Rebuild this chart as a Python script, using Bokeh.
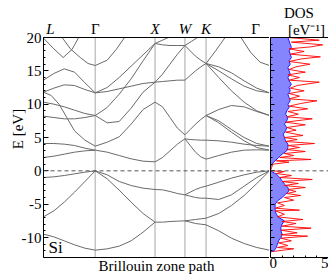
from bokeh.plotting import figure
from bokeh.layouts import row
from bokeh.models import Label, FixedTicker, Span
from bokeh.embed import file_html
from bokeh.resources import INLINE

# ---------------- data ----------------
k_points = [0.0, 0.866, 1.866, 2.366, 2.720, 3.781]   # L, Gamma, X, W, K, Gamma
k_names = ["L", "Γ", "X", "W", "K", "Γ"]
F6 = [0.0, 0.2, 0.4, 0.6, 0.8, 1.0]
F5 = [0.0, 0.25, 0.5, 0.75, 1.0]

# each band: (fractions along the segment, energies in eV)
seg_LG = [
    (F6, [-9.5, -9.9, -10.5, -11.1, -11.6, -11.9]),
    (F6, [-6.9, -6.0, -4.7, -3.2, -1.6, 0.0]),
    (F6, [-1.0, -0.9, -0.7, -0.45, -0.2, 0.0]),
    (F6, [2.0, 2.2, 2.5, 2.8, 3.0, 3.1]),
    (F6, [4.1, 4.1, 4.0, 3.8, 3.4, 3.1]),
    ([0.0, 0.15, 0.3, 0.45, 0.6, 0.8, 1.0], [11.8, 11.3, 10.0, 8.0, 6.0, 4.6, 3.7]),
    (F6, [8.2, 8.0, 7.8, 7.8, 8.0, 8.3]),
    (F6, [10.3, 10.0, 9.6, 9.1, 8.6, 8.3]),
    (F6, [13.6, 14.6, 15.3, 14.8, 13.2, 11.7]),
    (F6, [11.8, 12.4, 12.9, 12.8, 12.2, 11.7]),
    ([0.36, 0.52, 0.71, 0.86, 1.0], [20.0, 18.3, 17.0, 16.1, 15.8]),
    ([0.0, 0.2, 0.38, 0.55, 0.68], [19.9, 18.3, 17.0, 18.2, 20.0]),
]
seg_GX = [
    (F6, [-11.9, -11.7, -11.3, -10.5, -9.2, -7.7]),
    (F6, [0.0, -1.2, -2.9, -4.7, -6.4, -7.7]),
    (F6, [0.0, -0.6, -1.6, -2.2, -2.6, -2.8]),
    (F6, [3.1, 2.8, 2.3, 1.8, 1.45, 1.35]),
    (F6, [3.7, 4.3, 5.1, 7.0, 9.2, 10.3]),
    (F6, [8.3, 7.2, 7.4, 9.4, 11.8, 13.3]),
    (F6, [8.3, 9.5, 11.5, 13.8, 16.5, 19.1]),
    (F6, [11.7, 11.9, 12.3, 12.7, 13.1, 13.3]),
    (F6, [11.7, 12.5, 14.0, 15.7, 17.4, 19.1]),
    ([0.0, 0.2, 0.35, 0.49], [15.8, 16.6, 18.2, 20.0]),
]
seg_XW = [
    (F5, [-7.7, -7.7, -7.6, -7.55, -7.5]),
    (F5, [-2.8, -2.85, -3.1, -3.4, -3.6]),
    (F5, [1.35, 2.0, 3.0, 4.0, 4.8]),
    (F5, [10.3, 9.6, 8.0, 6.4, 5.4]),
    (F5, [13.3, 13.4, 13.5, 13.6, 13.6]),
    (F5, [13.3, 14.5, 16.0, 17.5, 18.8]),
    (F5, [19.1, 18.9, 18.8, 18.8, 18.8]),
    ([0.0, 0.25, 0.45], [19.1, 19.6, 20.0]),
]
seg_WK = [
    (F5, [-3.6, -3.2, -2.8, -2.5, -2.3]),
    (F5, [-3.6, -3.8, -4.0, -4.1, -4.1]),
    (F5, [-7.5, -7.4, -7.3, -7.2, -7.1]),
    (F5, [-7.5, -7.7, -7.9, -8.0, -8.1]),
    (F5, [4.8, 3.8, 2.8, 2.1, 1.75]),
    (F5, [4.8, 4.7, 4.65, 4.6, 4.6]),
    (F5, [5.4, 6.2, 7.0, 7.7, 8.3]),
    (F5, [13.6, 14.3, 15.0, 15.6, 16.1]),
    (F5, [18.8, 18.0, 17.2, 16.6, 16.1]),
    ([0.0, 0.3, 0.6], [18.8, 19.4, 20.0]),
]
seg_KG = [
    (F6, [-2.3, -1.7, -1.1, -0.6, -0.2, 0.0]),
    (F6, [-4.1, -4.3, -3.6, -2.3, -1.0, 0.0]),
    (F6, [-7.1, -6.4, -5.2, -3.7, -1.9, 0.0]),
    (F6, [-8.1, -9.0, -10.1, -10.9, -11.5, -11.9]),
    (F6, [1.75, 2.3, 2.8, 3.1, 3.15, 3.1]),
    (F6, [4.6, 4.5, 4.3, 4.0, 3.8, 3.7]),
    (F6, [8.3, 7.5, 6.2, 5.0, 4.1, 3.7]),
    (F6, [8.3, 7.2, 5.8, 4.5, 3.5, 3.1]),
    (F6, [8.3, 9.2, 9.8, 9.6, 8.9, 8.3]),
    (F6, [16.1, 14.0, 12.0, 10.3, 9.0, 8.3]),
    (F6, [16.1, 15.0, 13.8, 12.7, 12.0, 11.7]),
    (F6, [16.1, 15.6, 14.7, 13.5, 12.4, 11.7]),
    ([0.0, 0.15, 0.3], [16.1, 18.0, 20.0]),
    ([0.55, 0.7, 0.85, 1.0], [20.0, 17.8, 16.3, 15.8]),
]
segments = [seg_LG, seg_GX, seg_XW, seg_WK, seg_KG]

dos_E = [-12.2, -12.0, -11.5, -11.0, -10.5, -10.0, -9.5, -9.0, -8.5, -8.0, -7.5, -7.0, -6.5,
         -6.0, -5.5, -5.0, -4.5, -4.0, -3.5, -3.0, -2.5, -2.0, -1.5, -1.0, -0.5, 0.0,
         0.5, 1.0, 1.5, 2.0, 2.5, 3.0, 3.5, 4.0, 4.5, 5.0, 5.5, 6.0, 6.5, 7.0, 7.5, 8.0,
         8.5, 9.0, 9.5, 10.0, 10.5, 11.0, 11.5, 12.0, 12.5, 13.0, 13.5, 14.0, 14.5, 15.0,
         15.5, 16.0, 16.5, 17.0, 17.5, 18.0, 18.5, 19.0, 19.5, 20.0]
dos_blue = [0.0, 0.3, 0.5, 0.6, 0.7, 0.9, 1.0, 0.9, 0.9, 1.0, 1.2, 0.7, 0.5,
            0.4, 0.4, 0.4, 0.6, 1.0, 1.3, 1.6, 1.5, 1.2, 1.0, 0.8, 0.5, 0.0,
            0.0, 0.1, 0.4, 0.7, 1.0, 1.4, 1.5, 1.5, 1.3, 1.2, 1.1, 1.3, 1.4, 1.2, 1.4, 1.5,
            1.3, 1.4, 1.6, 1.5, 1.7, 1.6, 1.5, 1.7, 1.6, 1.8, 1.6, 1.5, 1.7, 1.6,
            1.5, 1.7, 1.6, 1.8, 1.7, 1.6, 1.8, 1.7, 1.6, 1.5]

red_E = [-12.1, -11.7, -11.5, -11.2, -10.8, -10.5, -10.1, -9.8, -9.6, -9.3, -8.9, -8.6, -8.3,
         -7.9, -7.6, -7.3, -6.9, -6.5, -6.0, -5.9, -5.6, -5.2, -4.8, -4.4, -4.0, -3.7, -3.4,
         -3.1, -2.8, -2.5, -2.2, -1.9, -1.6, -1.3, -1.0, -0.7, -0.4, -0.1, 0.0,
         1.0, 1.3, 1.5, 1.7, 2.0, 2.3, 2.6, 2.9, 3.2, 3.5, 3.8, 4.1, 4.4, 4.7, 5.0, 5.3,
         5.8, 6.1, 6.5, 6.9, 7.3, 7.8, 8.1, 8.5, 8.9, 9.3, 9.7, 10.1, 10.5, 10.8, 11.2,
         11.6, 12.0, 12.4, 12.8, 13.3, 13.6, 14.0, 14.4, 14.8, 15.2, 15.6, 16.0, 16.4,
         16.8, 17.1, 17.5, 17.9, 18.3, 18.6, 18.9, 19.3, 19.6, 20.0]
red_D = [0.2, 2.0, 0.6, 1.5, 0.7, 1.8, 0.9, 3.2, 0.9, 2.3, 0.9, 3.5, 1.0,
         2.2, 1.0, 2.8, 0.6, 1.2, 0.4, 2.5, 0.4, 1.2, 0.6, 2.0, 1.2, 2.6, 1.4,
         2.2, 1.5, 3.0, 1.2, 2.4, 1.0, 3.6, 0.8, 1.8, 0.5, 1.2, 0.0,
         0.2, 1.6, 0.5, 3.5, 0.8, 2.0, 1.2, 3.0, 1.4, 2.5, 1.5, 3.8, 1.3, 2.3, 1.2, 2.8,
         1.3, 2.2, 1.4, 3.0, 1.3, 3.6, 1.4, 2.4, 1.5, 3.2, 1.6, 2.6, 4.0, 1.6, 2.5,
         1.6, 2.9, 1.7, 2.3, 4.2, 1.6, 2.5, 1.5, 3.0, 1.6, 2.2, 3.4, 1.6,
         2.7, 4.3, 1.7, 2.9, 1.6, 3.5, 4.5, 1.8, 4.2, 1.5]

E_ticks = [-10, -5, 0, 5, 10, 15, 20]
E_minor = list(range(-13, 21))
dos_ticks = [0, 5]
dos_minor = [1, 2, 3, 4]

# ---------------- style ----------------
FONT = "Liberation Serif"
E_min, E_max = -13, 20
E_top = E_max + 37 * (E_max - E_min) / 220.0   # room for the labels above the frame
FRAME_H = 257

p = figure(frame_width=226, frame_height=FRAME_H, min_border_left=43, min_border_right=0,
           min_border_top=0, min_border_bottom=22,
           x_range=(k_points[0], k_points[-1]), y_range=(E_min, E_top),
           output_backend="svg", toolbar_location=None)
p.grid.visible = False
p.outline_line_color = None
p.background_fill_color = "white"
p.border_fill_color = "white"

p.segment(x0=k_points[1:-1], y0=[E_min] * 4, x1=k_points[1:-1], y1=[E_max] * 4,
          line_color="#c4c4c4", line_width=1.5)
p.add_layout(Span(location=0, dimension="width", line_color="#555555", line_width=1,
                  line_dash="4 3"))
p.add_layout(Span(location=E_max, dimension="width", line_color="black", line_width=1))

xs, ys = [], []
for i, seg in enumerate(segments):
    k0, k1 = k_points[i], k_points[i + 1]
    for fr, en in seg:
        xs.append([k0 + f * (k1 - k0) for f in fr])
        ys.append(en)
p.multi_line(xs, ys, line_color="#6a6a6a", line_width=1)

p.xaxis.ticker = FixedTicker(ticks=[])
p.xaxis.axis_label = "Brillouin zone path"
p.xaxis.axis_label_standoff = 0
p.xaxis.major_label_standoff = 0
p.xaxis.axis_label_text_font = FONT
p.xaxis.axis_label_text_font_style = "normal"
p.xaxis.axis_label_text_font_size = "15px"
p.xaxis.axis_label_text_color = "black"
p.xaxis.axis_line_color = "black"

p.yaxis.ticker = FixedTicker(ticks=E_ticks, minor_ticks=E_minor)
p.yaxis.bounds = (E_min, E_max)
p.yaxis.major_label_overrides = {-10: "-10", -5: "-5"}
p.yaxis.axis_label = "E [eV]"
p.yaxis.axis_label_standoff = -7
p.yaxis.axis_label_text_font = FONT
p.yaxis.axis_label_text_font_style = "normal"
p.yaxis.axis_label_text_font_size = "15px"
p.yaxis.axis_label_text_color = "black"
p.yaxis.major_label_text_font = FONT
p.yaxis.major_label_text_font_size = "15px"
p.yaxis.major_label_text_color = "black"
p.yaxis.major_label_standoff = 2
p.yaxis.major_tick_in = 5
p.yaxis.major_tick_out = 0
p.yaxis.minor_tick_in = 2
p.yaxis.minor_tick_out = 0
p.yaxis.axis_line_color = "black"

for kp, name in zip(k_points, k_names):
    off = 0
    if kp == k_points[0]:
        off = 7
    elif kp == k_points[-1]:
        off = -14
    p.add_layout(Label(x=kp, y=E_max, text=name, x_offset=off, y_offset=9,
                       text_align="center", text_baseline="alphabetic",
                       text_font=FONT, text_font_size="15px",
                       text_font_style="normal" if name == "Γ" else "italic",
                       text_color="black"))
p.add_layout(Label(x=k_points[0], y=E_min, text="Si", x_offset=5, y_offset=1,
                   text_baseline="bottom", text_font=FONT, text_font_size="17px",
                   text_color="black"))

# DOS panel
q = figure(frame_width=58, frame_height=FRAME_H, min_border_left=1, min_border_right=0,
           min_border_top=0, min_border_bottom=22,
           x_range=(0, 5), y_range=(E_min, E_top),
           output_backend="svg", toolbar_location=None)
q.grid.visible = False
q.outline_line_color = None
q.add_layout(Span(location=0, dimension="width", line_color="#555555", line_width=1,
                  line_dash="4 3"))
q.add_layout(Span(location=E_max, dimension="width", line_color="black", line_width=1))
q.harea(x1=[0] * len(dos_E), x2=dos_blue, y=dos_E, fill_color="#7070ff", fill_alpha=0.85)
q.line(dos_blue, dos_E, line_color="#2020ff", line_width=1)
q.line(red_D, red_E, line_color="red", line_width=1, line_alpha=0.9)

q.xaxis.ticker = FixedTicker(ticks=dos_ticks, minor_ticks=dos_minor)
q.xaxis.major_label_text_font = FONT
q.xaxis.major_label_text_font_size = "15px"
q.xaxis.major_label_text_color = "black"
q.xaxis.major_label_standoff = 0
q.xaxis.major_tick_in = 5
q.xaxis.major_tick_out = 0
q.xaxis.minor_tick_in = 2
q.xaxis.minor_tick_out = 0
q.xaxis.axis_line_color = "black"

q.yaxis.ticker = FixedTicker(ticks=E_ticks, minor_ticks=E_minor)
q.yaxis.bounds = (E_min, E_max)
q.yaxis.major_label_overrides = {t: "" for t in E_ticks}
q.yaxis.major_label_standoff = 0
q.yaxis.major_tick_in = 4
q.yaxis.major_tick_out = 0
q.yaxis.minor_tick_in = 2
q.yaxis.minor_tick_out = 0
q.yaxis.axis_line_color = "black"

q.add_layout(Label(x=2.45, y=E_max, text="DOS", y_offset=25, text_align="center",
                   text_baseline="alphabetic", text_font=FONT, text_font_size="15px",
                   text_color="black"))
q.add_layout(Label(x=3.1, y=E_max, text="[eV⁻¹]", y_offset=8, text_align="center",
                   text_baseline="alphabetic", text_font=FONT, text_font_size="15px",
                   text_color="black"))

layout = row(p, q)
open("out.html", "w").write(file_html(layout, INLINE))
